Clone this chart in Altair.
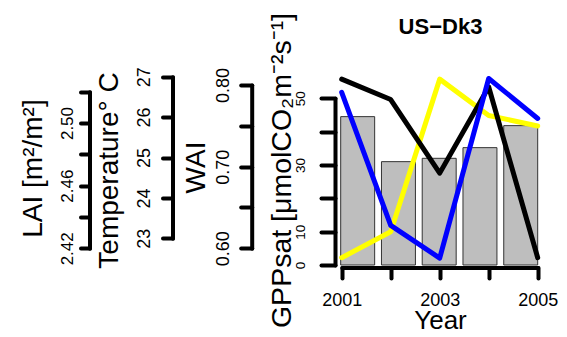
import altair as alt
import pandas as pd

# ---- data ----
years = [2001, 2002, 2003, 2004, 2005]
gpp_sat = [44.5, 31.0, 32.0, 35.2, 41.8]          # grey bars (GPPsat)
lai = [2.528, 2.515, 2.468, 2.523, 2.414]          # black line
temperature = [22.52, 23.16, 26.94, 26.04, 25.78]  # yellow line
wai = [0.791, 0.628, 0.588, 0.808, 0.759]          # blue line

lai_ticks = [2.42, 2.44, 2.46, 2.48, 2.50, 2.52]
temp_ticks = [23, 24, 25, 26, 27]
wai_ticks = [0.60, 0.65, 0.70, 0.75, 0.80]
gpp_ticks = [0, 10, 20, 30, 40, 50]
year_ticks = [2001, 2002, 2003, 2004, 2005]

df = pd.DataFrame({"year": years, "gpp": gpp_sat, "lai": lai,
                   "temp": temperature, "wai": wai})

FONT = "Liberation Sans"
X0, Y0 = 335, 71          # page position of plot origin
W, H = 211, 196.5


def px(v):
    return v - X0


def py(v):
    return v - Y0


def left_axis(values, offset, tick, pad, fmt, expr, title, tx, ty, lsize=18, tsize=28):
    return alt.Axis(
        orient="left", offset=offset, values=values, format=fmt, labelExpr=expr,
        labelAngle=270, labelAlign="center", labelBaseline="alphabetic",
        labelFont=FONT, labelFontSize=lsize, labelColor="black", labelPadding=pad,
        labelOverlap=False, labelFlush=False,
        tickSize=tick, tickWidth=4, tickColor="black", tickCap="round",
        domainWidth=4, domainColor="black", domainCap="round", grid=False,
        title=title, titleFont=FONT, titleFontSize=tsize, titleFontWeight="normal",
        titleColor="black", titleAngle=270, titleAlign="center",
        titleBaseline="alphabetic", titleX=tx, titleY=ty,
    )


gpp_axis = left_axis(gpp_ticks, 0, 14, 16.5, "d",
                     "datum.value == 20 || datum.value == 40 ? '' : format(datum.value, 'd')",
                     "GPPsat [μmolCO₂m⁻²s⁻¹]", -45, py(170), lsize=13.5, tsize=28.5)
lai_axis = left_axis(lai_ticks, X0 - 89.5, 9, 8.5, ".2f",
                     "round(datum.value * 100) % 4 == 2 ? format(datum.value, '.2f') : ''",
                     "LAI [m²/m²]", -48, py(168), lsize=17)
temp_axis = left_axis(temp_ticks, X0 - 172.5, 10, 13.5, "d",
                      "format(datum.value, 'd')",
                      "Temperature° C", -55.5, py(170))
wai_axis = left_axis(wai_ticks, X0 - 251.7, 11, 12.4, ".2f",
                     "round(datum.value * 100) % 10 == 0 ? format(datum.value, '.2f') : ''",
                     "WAI", -47.7, py(167))

year_axis = alt.Axis(
    orient="bottom", offset=0, values=year_ticks, format="d",
    labelExpr="datum.value % 2 == 1 ? format(datum.value, 'd') : ''",
    labelFont=FONT, labelFontSize=18, labelColor="black", labelBaseline="alphabetic",
    labelAlign="center", labelPadding=27, labelOverlap=False, labelFlush=False,
    tickSize=10.5, tickWidth=4, tickColor="black", tickCap="round",
    domainWidth=4, domainColor="black", domainCap="round", grid=False,
    title="Year", titleFont=FONT, titleFontSize=26, titleFontWeight="normal",
    titleColor="black", titleAngle=0, titleAlign="center", titleBaseline="alphabetic",
    titleX=px(440), titleY=328 - (Y0 + H),
)

title_axis = alt.Axis(
    orient="top", domain=False, ticks=False, labels=False, grid=False,
    title="US−Dk3", titleFont=FONT, titleFontSize=22, titleFontWeight="bold",
    titleColor="black", titleAngle=0, titleAlign="center", titleBaseline="alphabetic",
    titleX=px(440), titleY=py(33),
)

bars = alt.Chart(df).mark_bar(color="#BEBEBE", stroke="#333333", strokeWidth=1).encode(
    x=alt.X("year:O", scale=alt.Scale(range=[px(340.7), px(537.7)],
                                      paddingInner=1 / 6, paddingOuter=0),
            axis=title_axis),
    y=alt.Y("gpp:Q", scale=alt.Scale(domain=[0, 50], range=[py(265), py(98.3)],
                                     nice=False, zero=False),
            axis=gpp_axis),
)

xscale = alt.Scale(domain=[2001, 2005], range=[px(341.7), px(537.7)], nice=False, zero=False)


def line_layer(field, color, dom, rng, yaxis, xaxis=None):
    return alt.Chart(df).mark_line(color=color, strokeWidth=5, strokeCap="round",
                                   strokeJoin="round").encode(
        x=alt.X("year:Q", scale=xscale, axis=xaxis),
        y=alt.Y(f"{field}:Q", scale=alt.Scale(domain=dom, range=rng, nice=False, zero=False),
                axis=yaxis),
    )


yellow = line_layer("temp", "#FFFF00", [23, 27], [py(238.3), py(76.7)], temp_axis)
black = line_layer("lai", "#000000", [2.42, 2.52], [py(248.3), py(91.7)], lai_axis)
blue = line_layer("wai", "#0000FF", [0.60, 0.80], [py(248.3), py(85)], wai_axis, year_axis)

chart = alt.layer(bars, yellow, black, blue).resolve_scale(
    x="independent", y="independent"
).properties(
    width=W, height=H,
    autosize=alt.AutoSizeParams(type="none"),
    padding={"left": X0 - 8, "top": Y0 - 8, "right": 13, "bottom": 67},
).configure_view(stroke=None)

chart.save("out.html", embed_options={"renderer": "svg", "actions": False})
